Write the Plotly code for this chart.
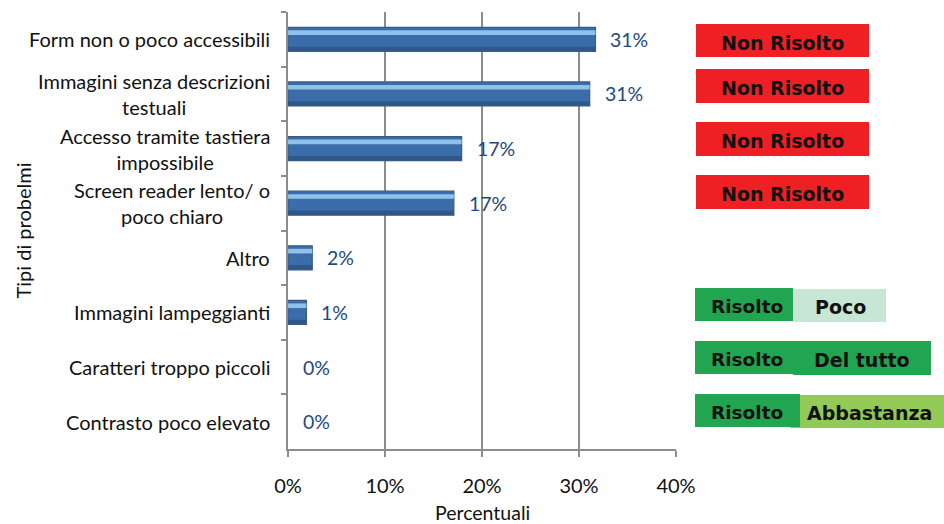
import plotly.graph_objects as go

categories = [
    "Form non o poco accessibili",
    "Immagini senza descrizioni<br>testuali",
    "Accesso tramite tastiera<br>impossibile",
    "Screen reader lento/ o<br>poco chiaro",
    "Altro",
    "Immagini lampeggianti",
    "Caratteri troppo piccoli",
    "Contrasto poco elevato",
]
values = [31.7, 31.1, 17.9, 17.1, 2.5, 1.9, 0, 0]
value_labels = ["31%", "31%", "17%", "17%", "2%", "1%", "0%", "0%"]
x_ticks = [0, 10, 20, 30, 40]
x_tick_labels = ["0%", "10%", "20%", "30%", "40%"]

FONT = "Lato"
GRID = "#8c8c8c"

border_w = [1.2 if v > 0 else 0 for v in values]

fig = go.Figure()
# main bar body
fig.add_trace(go.Bar(
    y=categories, x=values, orientation="h", width=0.44,
    marker=dict(color="#3a6daa", line=dict(color="#3d5a80", width=border_w)),
    hoverinfo="skip", showlegend=False,
))
# highlight band (sheen)
fig.add_trace(go.Bar(
    y=categories, x=values, orientation="h", width=0.085, offset=-0.165,
    marker=dict(color="#8fc1ea", line=dict(width=0)),
    hoverinfo="skip", showlegend=False,
))
# bottom shade band
fig.add_trace(go.Bar(
    y=categories, x=values, orientation="h", width=0.08, offset=0.135,
    marker=dict(color="#2f5889", line=dict(width=0)),
    hoverinfo="skip", showlegend=False,
))
fig.update_layout(barmode="overlay")

annotations = []
for c, v, t in zip(categories, values, value_labels):
    annotations.append(dict(
        x=v, y=c, xref="x", yref="y", text=t, showarrow=False,
        xanchor="left", yanchor="middle", xshift=13,
        font=dict(family=FONT, size=19.5, color="#1f497d"),
    ))
    annotations.append(dict(
        x=0, y=c, xref="paper", yref="y", text=c, showarrow=False,
        xanchor="right", yanchor="middle", align="center", xshift=-16,
        font=dict(family=FONT, size=20, color="#111111"),
    ))

# status boxes on the right (pixel -> paper conversion)
W, H = 944, 524
L, R, T, B = 288, 268, 12, 75
pw, ph = W - L - R, H - T - B


def px(x):
    return (x - L) / pw


def py(y):
    return 1 - (y - T) / ph


# axis titles
annotations.append(dict(
    x=0.5, y=py(512), xref="paper", yref="paper", text="Percentuali", showarrow=False,
    xanchor="center", yanchor="middle", font=dict(family=FONT, size=19.5, color="#111111"),
))
annotations.append(dict(
    x=px(22), y=0.5, xref="paper", yref="paper", text="Tipi di probelmi", showarrow=False,
    textangle=-90, xanchor="center", yanchor="middle",
    font=dict(family=FONT, size=20, color="#111111"),
))

shapes = []
BOXFONT = dict(family="DejaVu Sans", size=19, color="#111111")
red_boxes = [(24, 57), (69, 103), (122, 156), (175, 209)]
for y0, y1 in red_boxes:
    shapes.append(dict(type="rect", xref="paper", yref="paper", x0=px(696), x1=px(869),
                       y0=py(y1), y1=py(y0), fillcolor="#ee2024", line=dict(width=0), layer="above"))
    annotations.append(dict(x=px(782), y=py((y0 + y1) / 2 + 2), xref="paper", yref="paper",
                            xanchor="center", yanchor="middle",
                            text="<b>Non Risolto</b>", showarrow=False, font=BOXFONT))

green = "#22a550"
green_rows = [
    # (y0, y1, dark_x1, second_color, second_x0, second_x1, second_text, second_cx)
    (288, 321, 793, "#c7e6d4", 793, 886, "Poco", 840),
    (341, 374, 931, green, 793, 931, "Del tutto", 862),
    (394, 427, 800, "#92c957", 790, 944, "Abbastanza", 869),
]
for y0, y1, dx1, c2, sx0, sx1, t2, cx2 in green_rows:
    shapes.append(dict(type="rect", xref="paper", yref="paper", x0=px(sx0), x1=px(sx1),
                       y0=py(y1 + 1), y1=py(y0 + 1), fillcolor=c2, line=dict(width=0), layer="above"))
    shapes.append(dict(type="rect", xref="paper", yref="paper", x0=px(695), x1=px(dx1),
                       y0=py(y1), y1=py(y0), fillcolor=green, line=dict(width=0), layer="above"))
    annotations.append(dict(x=px(747), y=py((y0 + y1) / 2 + 2), xref="paper", yref="paper",
                            xanchor="center", yanchor="middle",
                            text="<b>Risolto</b>", showarrow=False,
                            font=dict(family="DejaVu Sans", size=18.5, color="#111111")))
    annotations.append(dict(x=px(cx2), y=py((y0 + y1) / 2 + 2), xref="paper", yref="paper",
                            xanchor="center", yanchor="middle",
                            text="<b>" + t2 + "</b>", showarrow=False, font=BOXFONT))

fig.update_layout(
    width=W, height=H,
    margin=dict(l=L, r=R, t=T, b=B, pad=0),
    plot_bgcolor="white", paper_bgcolor="white",
    font=dict(family=FONT, size=17, color="#111111"),
    xaxis=dict(
        range=[0, 40], tickvals=x_ticks, ticktext=x_tick_labels,
        showgrid=True, gridcolor=GRID, gridwidth=2,
        showline=True, linecolor=GRID, linewidth=2,
        ticks="outside", ticklen=6, tickcolor=GRID, tickwidth=2,
        ticklabelstandoff=12, zeroline=False,
        tickfont=dict(family=FONT, size=20, color="#111111"),
        fixedrange=True,
    ),
    yaxis=dict(
        autorange="reversed", showticklabels=False,
        showline=True, linecolor=GRID, linewidth=2,
        ticks="outside", tickson="boundaries", ticklen=5, tickcolor=GRID, tickwidth=2,
        showgrid=False, fixedrange=True,
    ),
    annotations=annotations,
    shapes=shapes,
)

fig.write_html("out.html", config={"displayModeBar": False},
               post_script="document.body.style.margin='0';")
